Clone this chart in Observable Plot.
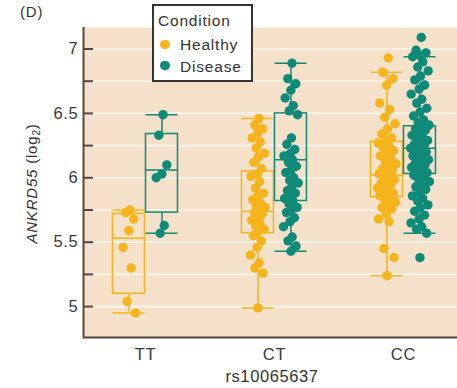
<!DOCTYPE html>
<html><head><meta charset="utf-8">
<script src="https://cdn.jsdelivr.net/npm/d3@7"></script>
<script src="https://cdn.jsdelivr.net/npm/@observablehq/plot@0.6"></script>
<style>
body{margin:0;background:#fff;font-family:"Liberation Sans",Arial,sans-serif;color:#333;}
#wrap{position:relative;width:457px;height:388px;overflow:hidden;}
#wrap svg{position:absolute;left:0;top:0;}
.txt{position:absolute;white-space:nowrap;letter-spacing:0.8px;}
#panel{left:20px;top:4px;font-size:15px;line-height:15px;}
#legend{position:absolute;left:152px;top:4px;width:101px;height:78px;box-sizing:border-box;border:2px solid #333;background:#fff;}
#legend .txt{font-size:15.5px;line-height:15.5px;}
#legend .dot{position:absolute;width:9.4px;height:9.4px;border-radius:50%;}
#ylab{left:-69.5px;top:175.5px;width:200px;text-align:center;font-size:15px;line-height:15px;transform:rotate(-90deg);}
#ylab sub{font-size:10px;vertical-align:-3px;line-height:0;}
#xlab{left:172px;top:368px;width:200px;text-align:center;font-size:16.5px;line-height:16.5px;letter-spacing:0.6px;}
</style></head>
<body><div id="wrap"></div>
<script>
// ---- data ----
const genotypes = ["TT", "CT", "CC"];
const conditions = ["Healthy", "Disease"];
const colors = ["#f5b41c", "#0f8a78"];
const xAxisTitle = "rs10065637";
const legendTitle = "Condition";
const panelLabel = "(D)";
const yTicksMinor = [5, 5.25, 5.5, 5.75, 6, 6.25, 6.5, 6.75, 7];
const yTicksLabeled = [5, 5.5, 6, 6.5, 7];

const ttHealthy = [5.75, 5.73, 5.68, 5.59, 5.46, 5.30, 5.04, 4.95];
const ttDisease = [6.49, 6.33, 6.10, 6.03, 6.00, 5.63, 5.57];
const ctHealthy = [6.46, 6.41, 6.38, 6.35, 6.31, 6.28, 6.23, 6.19, 6.16, 6.12, 6.07, 6.03, 6.01, 5.97, 5.92, 5.88, 5.86, 5.83, 5.80, 5.78, 5.77, 5.75, 5.73, 5.72, 5.69, 5.67, 5.65, 5.62, 5.60, 5.58, 5.55, 5.51, 5.46, 5.40, 5.34, 5.30, 5.26, 4.99];
const ctDisease = [6.89, 6.77, 6.73, 6.68, 6.62, 6.56, 6.52, 6.49, 6.31, 6.26, 6.22, 6.19, 6.17, 6.14, 6.12, 6.09, 6.06, 6.04, 6.00, 5.98, 5.96, 5.93, 5.90, 5.88, 5.86, 5.84, 5.82, 5.80, 5.77, 5.75, 5.73, 5.69, 5.66, 5.62, 5.54, 5.51, 5.47, 5.43];
const ccHealthy = [6.93, 6.82, 6.77, 6.72, 6.58, 6.53, 6.47, 6.42, 6.38, 6.34, 6.31, 6.29, 6.27, 6.25, 6.23, 6.21, 6.19, 6.17, 6.15, 6.13, 6.11, 6.09, 6.07, 6.06, 6.04, 6.03, 6.01, 6.00, 5.99, 5.97, 5.96, 5.95, 5.93, 5.92, 5.90, 5.89, 5.88, 5.87, 5.86, 5.85, 5.83, 5.81, 5.79, 5.77, 5.76, 5.72, 5.68, 5.66, 5.45, 5.38, 5.24];
const ccDisease = [7.09, 6.99, 6.97, 6.95, 6.94, 6.90, 6.86, 6.83, 6.79, 6.76, 6.72, 6.69, 6.65, 6.61, 6.58, 6.54, 6.51, 6.48, 6.45, 6.43, 6.41, 6.40, 6.38, 6.37, 6.35, 6.33, 6.32, 6.30, 6.29, 6.27, 6.26, 6.25, 6.24, 6.23, 6.22, 6.21, 6.20, 6.19, 6.17, 6.16, 6.15, 6.14, 6.12, 6.11, 6.10, 6.09, 6.08, 6.06, 6.05, 6.04, 6.03, 6.02, 6.01, 5.99, 5.97, 5.95, 5.93, 5.91, 5.89, 5.86, 5.84, 5.82, 5.79, 5.77, 5.74, 5.71, 5.68, 5.65, 5.62, 5.60, 5.57, 5.38];

// box statistics per group: TT-H, TT-D, CT-H, CT-D, CC-H, CC-D
const boxLow    = [4.95, 5.57, 4.99, 5.43, 5.24, 5.57];
const boxQ1     = [5.10, 5.73, 5.57, 5.82, 5.85, 6.03];
const boxMedian = [5.53, 6.06, 5.74, 6.14, 6.02, 6.23];
const boxQ3     = [5.72, 6.34, 6.05, 6.50, 6.28, 6.40];
const boxHigh   = [5.75, 6.49, 6.46, 6.89, 6.82, 6.94];

// ---- build tables ----
const groupValues = [ttHealthy, ttDisease, ctHealthy, ctDisease, ccHealthy, ccDisease];
const condOffset = {Healthy: -0.128, Disease: 0.128};
const halfBox = 0.124;
const spreadByGenotype = [0.06, 0.06, 0.075];
const groups = groupValues.map((values, k) => ({
  g: Math.floor(k / 2), c: conditions[k % 2], values,
  lo: boxLow[k], q1: boxQ1[k], med: boxMedian[k], q3: boxQ3[k], hi: boxHigh[k]
}));
groups.forEach(d => d.xc = d.g + condOffset[d.c]);
// deterministic jitter, concentrated toward the centre
const jitter = (i, s) => {
  const u = ((((i + 1) * 0.6180339887) % 1) - 0.5) * 2;
  return Math.sign(u) * Math.pow(Math.abs(u), 1.4) * s;
};
const points = groups.flatMap(grp => grp.values.map((v, i) => ({
  x: grp.xc + jitter(i, spreadByGenotype[grp.g]), y: v, c: grp.c
})));

const xDomain = [-0.4806, 2.419];
const yDomain = [4.76, 7.167];
const axisColor = "#54463b";
const colorScale = {domain: conditions, range: colors};

const chart = Plot.plot({
  width: 457, height: 388,
  marginLeft: 83, marginRight: 0, marginTop: 27, marginBottom: 51,
  x: {domain: xDomain, axis: null},
  y: {domain: yDomain, axis: null},
  color: colorScale,
  style: {fontFamily: "'Liberation Sans', Arial, sans-serif", fontSize: "16.5px", color: "#3a3a3a", background: "transparent", letterSpacing: "0.7px"},
  marks: [
    Plot.frame({fill: "#f5e0c9", stroke: "none"}),
    Plot.gridY(yTicksMinor, {stroke: "#fdf5ec", strokeOpacity: 1, strokeWidth: 1.6}),
    // whiskers
    Plot.ruleX(groups, {x: "xc", y1: "lo", y2: "q1", stroke: "c", strokeWidth: 1.5}),
    Plot.ruleX(groups, {x: "xc", y1: "q3", y2: "hi", stroke: "c", strokeWidth: 1.5}),
    Plot.ruleY(groups, {y: "lo", x1: d => d.xc - halfBox, x2: d => d.xc + halfBox, stroke: "c", strokeWidth: 1.5}),
    Plot.ruleY(groups, {y: "hi", x1: d => d.xc - halfBox, x2: d => d.xc + halfBox, stroke: "c", strokeWidth: 1.5}),
    // boxes
    Plot.rect(groups, {x1: d => d.xc - halfBox, x2: d => d.xc + halfBox, y1: "q1", y2: "q3", fill: "none", stroke: "c", strokeWidth: 1.5}),
    Plot.ruleY(groups, {y: "med", x1: d => d.xc - halfBox, x2: d => d.xc + halfBox, stroke: "c", strokeWidth: 1.5}),
    // points
    Plot.dot(points, {x: "x", y: "y", fill: "c", r: 4.7, stroke: "none"}),
    // axes
    Plot.ruleX([xDomain[0]], {stroke: axisColor, strokeWidth: 2}),
    Plot.ruleY([yDomain[0]], {stroke: axisColor, strokeWidth: 2}),
    Plot.axisY({ticks: yTicksMinor, tickSize: 10, dx: 10, text: null, label: null, stroke: axisColor, strokeWidth: 2}),
    Plot.axisY({ticks: yTicksLabeled, tickSize: 0, tickPadding: 5, tickFormat: d => String(d), label: null}),
    Plot.axisX({ticks: [0, 1, 2], tickSize: 0, tickPadding: 11, tickFormat: i => genotypes[i], label: null})
  ]
});

const wrap = document.getElementById("wrap");
wrap.appendChild(chart);

function addText(parent, id, cls, html, style) {
  const el = document.createElement("div");
  if (id) el.id = id;
  el.className = cls;
  el.innerHTML = html;
  if (style) Object.assign(el.style, style);
  parent.appendChild(el);
  return el;
}
addText(wrap, "panel", "txt", panelLabel);
addText(wrap, "ylab", "txt", "<i>ANKRD55</i> (log<sub>2</sub>)");
addText(wrap, "xlab", "txt", xAxisTitle);

const legend = document.createElement("div");
legend.id = "legend";
wrap.appendChild(legend);
addText(legend, null, "txt", legendTitle, {left: "4px", top: "7px"});
conditions.forEach((c, i) => {
  const dot = document.createElement("div");
  dot.className = "dot";
  Object.assign(dot.style, {left: "6.3px", top: (33.6 + i * 21.4) + "px", background: colors[i]});
  legend.appendChild(dot);
  addText(legend, null, "txt", c, {left: "26px", top: (31 + i * 21.7) + "px"});
});
</script>
</body></html>
